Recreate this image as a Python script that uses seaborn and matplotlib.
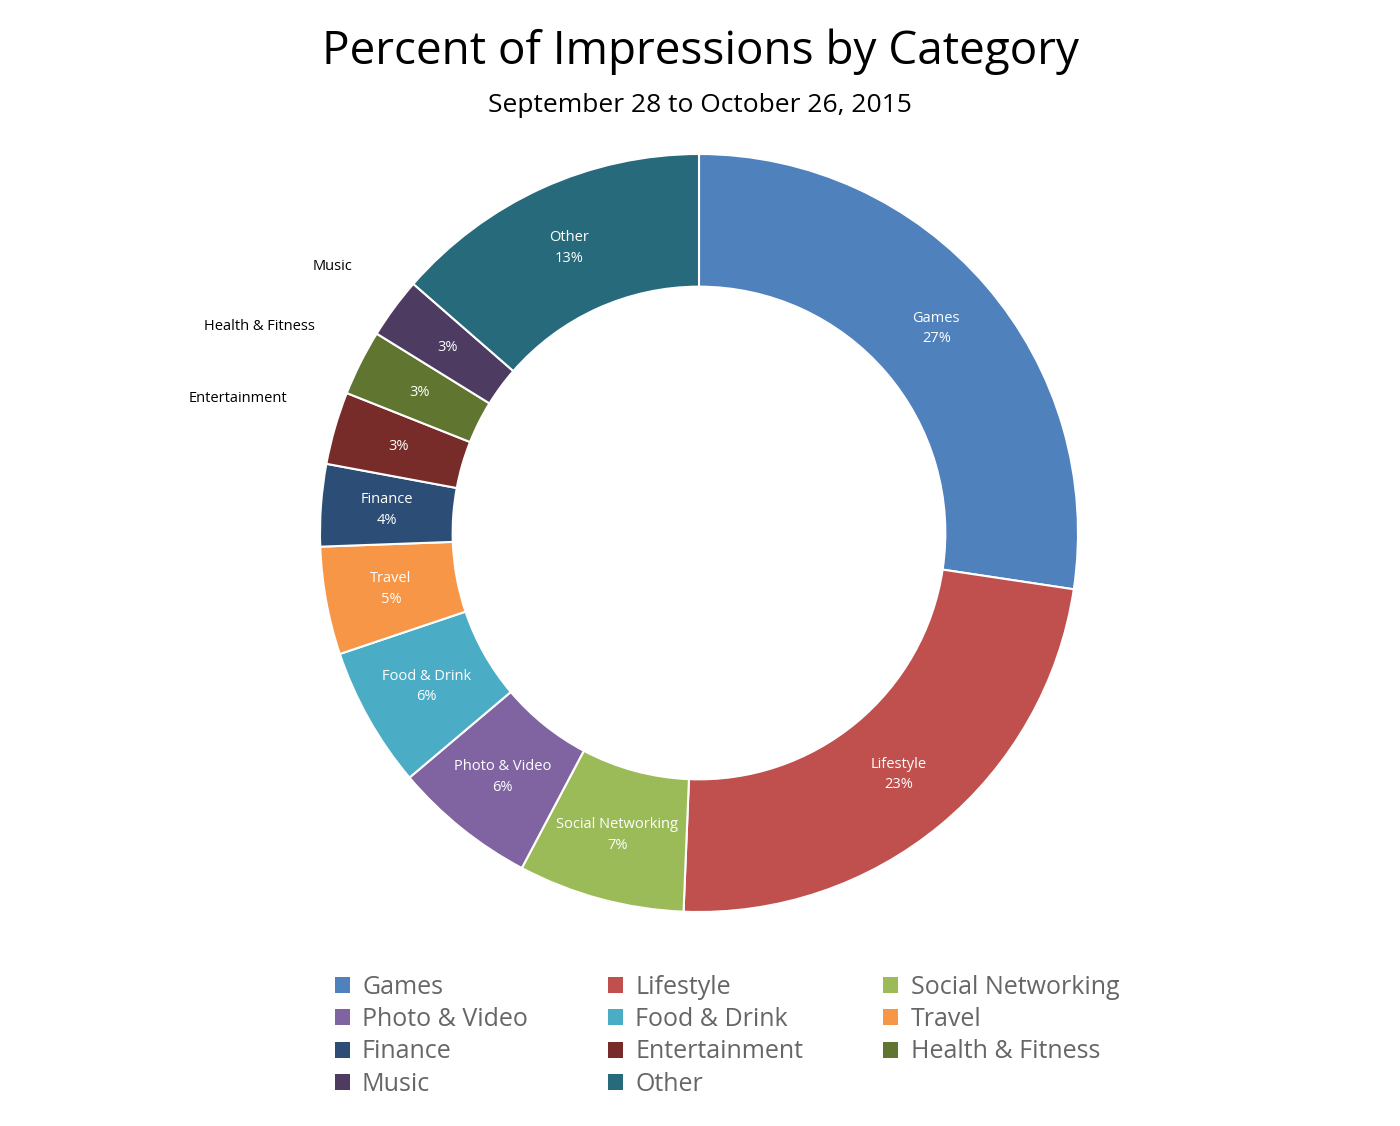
import matplotlib
matplotlib.use("Agg")
import matplotlib.pyplot as plt
import seaborn as sns
import numpy as np
from matplotlib.patches import Patch

categories = ["Games", "Lifestyle", "Social Networking", "Photo & Video", "Food & Drink",
              "Travel", "Finance", "Entertainment", "Health & Fitness", "Music", "Other"]
values = [27.4, 23.3, 7.1, 6.1, 6.0, 4.6, 3.5, 3.1, 2.8, 2.6, 13.6]
pct_labels = ["27%", "23%", "7%", "6%", "6%", "5%", "4%", "3%", "3%", "3%", "13%"]
colors = ["#4f81bd", "#c0504d", "#9bbb59", "#8064a2", "#4bacc6", "#f79646",
          "#2c4d75", "#772c2a", "#5f7530", "#4d3b62", "#276a7c"]
outside = {"Entertainment", "Health & Fitness", "Music"}

sns.set_theme(style="white")
plt.rcParams['font.family'] = ['Open Sans', 'DejaVu Sans']

fig = plt.figure(figsize=(14, 11.26), dpi=100)
ax = fig.add_axes([(699 - 379) / 1400, 1 - (533 + 379) / 1126, 758 / 1400, 758 / 1126])
wedges, _ = ax.pie(values, colors=colors, startangle=90, counterclock=False,
                   wedgeprops=dict(width=0.35, edgecolor="white", linewidth=1.5))
ax.set_xlim(-1, 1); ax.set_ylim(-1, 1); ax.set_aspect("equal"); ax.axis("off")

for w, cat, p in zip(wedges, categories, pct_labels):
    ang = np.deg2rad((w.theta1 + w.theta2) / 2)
    r = 0.826
    x, y = r * np.cos(ang), r * np.sin(ang)
    if cat in outside:
        ax.text(x, y, p, ha="center", va="center", color="white", fontsize=10.5)
        ro = 1.1
        ax.text(ro * np.cos(ang) - 0.03, ro * np.sin(ang) + 0.05, cat, ha="right", va="center",
                color="black", fontsize=10.5)
    else:
        ax.text(x, y, f"{cat}\n{p}", ha="center", va="center", color="white",
                fontsize=10.5, linespacing=1.5)

fig.text(0.5, 1 - 52 / 1126, "Percent of Impressions by Category", ha="center", va="center",
         fontsize=33, color="black")
fig.text(0.5, 1 - 105 / 1126, "September 28 to October 26, 2015", ha="center", va="center",
         fontsize=19, color="black")

handles = [Patch(facecolor=c, edgecolor="none") for c in colors]
order = [0, 3, 6, 9, 1, 4, 7, 10, 2, 5, 8]
leg = fig.legend([handles[i] for i in order], [categories[i] for i in order], ncol=3,
                 loc="upper left", bbox_to_anchor=(312 / 1400, 1 - 952 / 1126),
                 frameon=False, fontsize=18, handlelength=0.6, handleheight=0.6,
                 handletextpad=0.5, columnspacing=3.2, labelspacing=0.3)
for t in leg.get_texts():
    t.set_color("#666666")

fig.savefig("out.png", dpi=100, facecolor="white")
